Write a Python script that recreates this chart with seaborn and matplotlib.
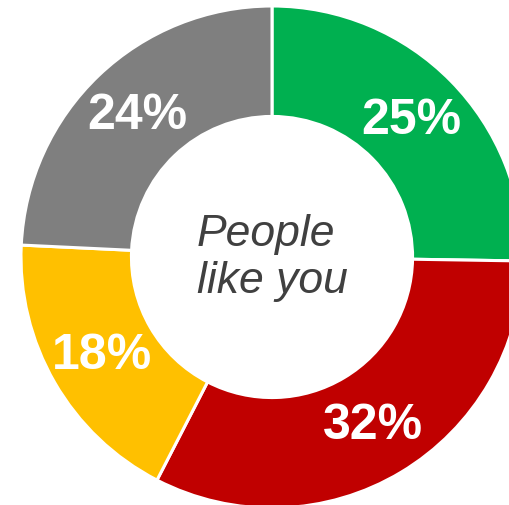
import matplotlib
matplotlib.use("Agg")
import matplotlib.pyplot as plt
import seaborn as sns

# Data
segments = ["Green", "Red", "Yellow", "Gray"]
values = [25, 32, 18, 24]
pct_labels = ["25%", "32%", "18%", "24%"]
hex_colors = ["#00B050", "#C00000", "#FFC000", "#7F7F7F"]
center_text = "People\nlike you"

sns.set_style("white")
plt.rcParams["font.family"] = ["Liberation Sans", "DejaVu Sans"]
palette = sns.color_palette(hex_colors)

fig = plt.figure(figsize=(5.10, 5.06), dpi=100)
ax = fig.add_axes([0, 0, 1, 1])

label_iter = iter(pct_labels)
wedges, texts, autotexts = ax.pie(
    values, colors=palette, startangle=90, counterclock=False,
    radius=1.0, pctdistance=0.78,
    autopct=lambda p: next(label_iter),
    wedgeprops=dict(width=0.44, edgecolor="white", linewidth=2.2),
    textprops=dict(color="white", fontsize=36, fontweight="bold"),
)

ax.text(0, 0.0, center_text, ha="center", va="center", multialignment="left",
        fontsize=32, style="italic", color="#404040", linespacing=1.18)

# place circle center at pixel (272, 258), radius 251 px
scale = 251.0
ax.set_xlim(-272 / scale, (510 - 272) / scale)
ax.set_ylim(-(506 - 258) / scale, 258 / scale)
ax.set_aspect("equal")
ax.axis("off")

fig.savefig("out.png", dpi=100)
